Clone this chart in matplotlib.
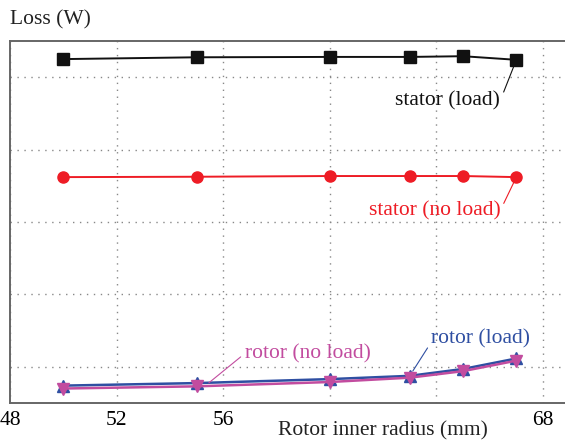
import matplotlib
matplotlib.use("Agg")
import matplotlib.pyplot as plt

plt.rcParams["font.family"] = ["Liberation Serif", "DejaVu Serif"]

# rotor inner radius (mm)
radius = [50, 55, 60, 63, 65, 67]

stator_load = [52.5, 52.75, 52.8, 52.8, 52.9, 52.4]
stator_noload = [36.2, 36.25, 36.35, 36.35, 36.35, 36.2]
rotor_load = [7.4, 7.75, 8.3, 8.75, 9.7, 11.15]
rotor_noload = [7.0, 7.3, 7.9, 8.5, 9.4, 10.85]

x_ticks = [48, 52, 56, 60, 64, 68]
x_tick_labels = ["48", "52", "56", "", "", "68"]
y_ticks = [10, 20, 30, 40, 50]

BLACK = "#111111"
RED = "#ee1c25"
BLUE = "#2f4fa2"
PINK = "#c24c9f"

fig = plt.figure(figsize=(5.65, 4.41), dpi=100)
ax = fig.add_axes([10 / 565, 38 / 441, 22 * 26.65 / 565, 362 / 441])

ax.plot(radius, stator_load, color=BLACK, lw=1.4, marker="s", ms=8, zorder=3)
ax.plot(radius, stator_noload, color=RED, lw=1.4, marker="o", ms=8, zorder=3)
ax.plot(radius, rotor_load, color=BLUE, lw=1.8, marker="^", ms=8, zorder=3)
ax.plot(radius, rotor_noload, color=PINK, lw=1.8, marker="v", ms=8, zorder=4)

ax.set_xlim(48, 70)
ax.set_ylim(5, 55)
ax.set_xticks(x_ticks)
ax.set_xticklabels(x_tick_labels)
ax.set_yticks(y_ticks)
ax.tick_params(length=0, labelsize=15.5, pad=6)
ax.tick_params(axis="y", pad=9)
ax.grid(True, color="#888888", linestyle=(0, (1, 4)), lw=1.0)
for s in ax.spines.values():
    s.set_color("#666666")
    s.set_linewidth(1.4)

fs = 15.5
line_kw = dict(arrowstyle="-", lw=0.8, shrinkA=1, shrinkB=4)
ax.annotate("stator (load)", xy=(67, 52.4), xytext=(66.4, 46.8),
            ha="right", va="center", fontsize=fs, color=BLACK,
            arrowprops=dict(color=BLACK, relpos=(1.0, 0.5), **line_kw))
ax.annotate("stator (no load)", xy=(67, 36.2), xytext=(66.4, 31.6),
            ha="right", va="center", fontsize=fs, color=RED,
            arrowprops=dict(color=RED, relpos=(1.0, 0.5), **line_kw))
ax.annotate("rotor (load)", xy=(63, 8.75), xytext=(63.8, 13.9),
            ha="left", va="center", fontsize=fs, color=BLUE,
            arrowprops=dict(color=BLUE, relpos=(0.0, 0.3), **line_kw))
ax.annotate("rotor (no load)", xy=(55.3, 7.3), xytext=(56.8, 11.8),
            ha="left", va="center", fontsize=fs, color=PINK,
            arrowprops=dict(color=PINK, relpos=(0.0, 0.5), **line_kw))

fig.text(278 / 565, 1 - 431 / 441, "Rotor inner radius (mm)", ha="left", va="center",
         fontsize=fs, color="#222222")
fig.text(10 / 565, 1 - 20 / 441, "Loss (W)", ha="left", va="center",
         fontsize=fs, color="#222222")

fig.savefig("out.png", dpi=100)
